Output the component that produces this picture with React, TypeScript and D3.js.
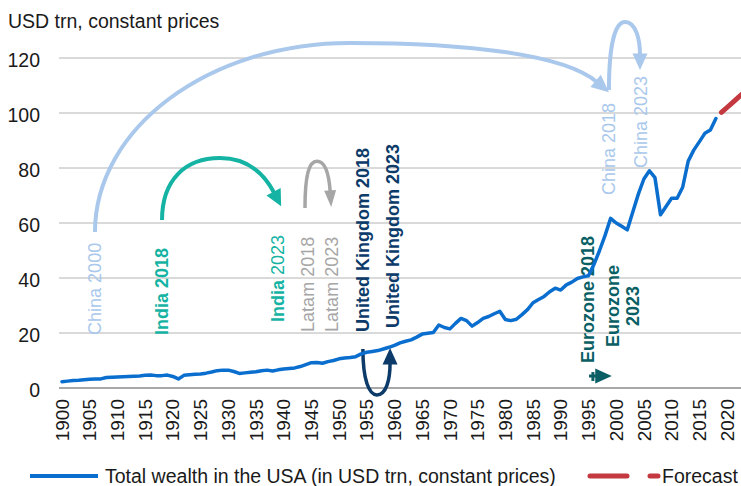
import React from "react";
import * as d3 from "d3";

const W = 741;
const H = 486;
const FONT = "'Liberation Sans', Arial, Helvetica, sans-serif";

const firstYear = 1900;
// Total wealth in the USA, USD trn, constant prices (1900..2018)
const wealth = [
  2.3, 2.5, 2.7, 2.8, 3.0, 3.2, 3.3, 3.3, 3.8, 3.9,
  4.0, 4.1, 4.2, 4.3, 4.4, 4.6, 4.7, 4.5, 4.5, 4.7,
  4.2, 3.3, 4.6, 4.8, 5.0, 5.1, 5.4, 5.8, 6.3, 6.5,
  6.5, 6.0, 5.3, 5.5, 5.7, 5.9, 6.3, 6.5, 6.2, 6.6,
  6.9, 7.1, 7.3, 7.8, 8.5, 9.2, 9.3, 9.0, 9.6, 10.0,
  10.6, 10.9, 11.1, 11.4, 12.4, 13.0, 13.3, 13.6, 14.2, 14.8,
  15.5, 16.4, 17.0, 17.5, 18.5, 19.6, 19.9, 20.2, 22.9, 22.0,
  21.5, 23.5, 25.3, 24.5, 22.5, 23.8, 25.3, 26.0, 27.0, 27.9,
  24.9, 24.5, 25.0, 26.7, 28.5, 31.0, 32.2, 33.3, 35.0, 36.3,
  35.6, 37.5, 38.5, 39.8, 40.4, 40.8, 45.0, 50.0, 55.5, 61.7,
  60.0, 58.8, 57.5, 64.0, 70.5, 76.0, 79.0, 76.5, 63.0, 66.0,
  69.0, 69.0, 73.0, 82.5, 86.5, 89.5, 92.6, 93.8, 98.0,
];
const forecastYears = [2019, 2020, 2021, 2022, 2023];
const forecast = [100.2, 102.0, 103.8, 105.6, 107.4];

const xTicks = [
  1900, 1905, 1910, 1915, 1920, 1925, 1930, 1935, 1940, 1945, 1950, 1955,
  1960, 1965, 1970, 1975, 1980, 1985, 1990, 1995, 2000, 2005, 2010, 2015, 2020,
];
const yTicks = [0, 20, 40, 60, 80, 100, 120];

const C_LINE = "#0a6ecf";
const C_FC = "#c4383f";
const C_CHINA = "#a9c8ec";
const C_INDIA = "#15b3a3";
const C_LATAM = "#a6a6a6";
const C_UK = "#0c3b6a";
const C_EURO = "#0a5f64";

// rotated labels: anchored at bottom (start), year/value of the anchor
const labels = [
  { text: ["China ", "2000"], year: 1905.95, value: 19.3, color: C_CHINA, bold: [false, false] },
  { text: ["India ", "2018"], year: 1918.05, value: 19.3, color: C_INDIA, bold: [true, true] },
  { text: ["India ", "2023"], year: 1939.0, value: 24.0, color: C_INDIA, bold: [true, false] },
  { text: ["Latam ", "2018"], year: 1944.4, value: 20.4, color: C_LATAM, bold: [false, false] },
  { text: ["Latam ", "2023"], year: 1948.7, value: 20.4, color: C_LATAM, bold: [false, false] },
  { text: ["United Kingdom ", "2018"], year: 1954.3, value: 20.4, color: C_UK, bold: [true, true] },
  { text: ["United Kingdom ", "2023"], year: 1959.6, value: 21.8, color: C_UK, bold: [true, true] },
  { text: ["Eurozone ", "2018"], year: 1994.9, value: 9.1, color: C_EURO, bold: [true, true] },
  { text: ["China ", "2018"], year: 1998.6, value: 70.2, color: C_CHINA, bold: [false, false] },
  { text: ["China ", "2023"], year: 2004.5, value: 80.0, color: C_CHINA, bold: [false, false] },
];
// centred two-line label
const euroLines = ["Eurozone", "2023"];
const euroLineYears = [1999.3, 2002.9];
const euroCenterValue = 29.8;

// curved arrows: [year, value] points, M then cubic segments
const arrows = [
  {
    color: C_CHINA, width: 4, head: 16, headW: 16,
    pts: [
      [1905.95, 56.7], [1905.95, 94.5], [1926.5, 125.5], [1951.97, 125.5],
      [1973.6, 125.5], [1990.8, 121.1], [1996.5, 111.3],
    ],
  },
  {
    color: C_INDIA, width: 4, head: 15, headW: 16,
    pts: [
      [1918.05, 61.1], [1918.05, 75.6], [1922.2, 83.6], [1928.5, 83.6],
      [1933.6, 83.6], [1936.6, 77.5], [1938.3, 70.9],
    ],
  },
  {
    color: C_LATAM, width: 3.5, head: 15, headW: 12,
    pts: [
      [1943.85, 65.45], [1943.85, 77.45], [1944.57, 82.5], [1946.0, 82.5],
      [1947.5, 82.5], [1948.2, 77.45], [1948.4, 71.3],
    ],
  },
  {
    color: C_UK, width: 3.5, head: 15, headW: 15,
    pts: [
      [1954.3, 14.2], [1954.3, 2.9], [1955.4, -2.5], [1956.8, -2.5],
      [1958.5, -2.5], [1959.2, 2.9], [1959.2, 9.1],
    ],
  },
  {
    color: C_CHINA, width: 4, head: 15, headW: 15,
    pts: [
      [1998.7, 108.4], [1998.7, 124.7], [1999.8, 133.1], [2001.6, 133.1],
      [2003.6, 133.1], [2004.3, 126.5], [2004.3, 121.1],
    ],
  },
];
// Eurozone: small straight arrow
const euroArrow = [[1995.1, 4.36], [1996.5, 4.36]];
const euroTick = [[1995.8, 5.8], [1995.8, 2.55]];

export default function App() {
  const x = d3.scaleLinear().domain([1900, 2020]).range([62, 727]);
  const y = d3.scaleLinear().domain([0, 120]).range([388, 58]);

  const series = wealth.map((v, i) => [firstYear + i, v] as [number, number]);
  const fcSeries = forecast.map((v, i) => [forecastYears[i], v] as [number, number]);
  const line = d3
    .line<[number, number]>()
    .x((d) => x(d[0]))
    .y((d) => y(d[1]));

  const arrowShape = (pts: number[][], head: number, headW: number) => {
    const p = pts.map(([a, b]) => [x(a), y(b)]);
    const path = d3.path();
    path.moveTo(p[0][0], p[0][1]);
    for (let i = 1; i + 2 < p.length; i += 3) {
      path.bezierCurveTo(p[i][0], p[i][1], p[i + 1][0], p[i + 1][1], p[i + 2][0], p[i + 2][1]);
    }
    if (p.length === 2) path.lineTo(p[1][0], p[1][1]);
    const end = p[p.length - 1];
    const prev = p[p.length - 2];
    const dx = end[0] - prev[0];
    const dy = end[1] - prev[1];
    const L = Math.hypot(dx, dy);
    const ux = dx / L;
    const uy = dy / L;
    const bx = end[0] - ux * 1.5;
    const by = end[1] - uy * 1.5;
    const tip = [end[0] + ux * head, end[1] + uy * head];
    const b1 = [bx - (uy * headW) / 2, by + (ux * headW) / 2];
    const b2 = [bx + (uy * headW) / 2, by - (ux * headW) / 2];
    const tri = `M${b1[0]},${b1[1]}L${tip[0]},${tip[1]}L${b2[0]},${b2[1]}Z`;
    return { d: path.toString(), tri };
  };

  const euro = arrowShape(euroArrow, 15, 15);

  return (
    <svg
      width={W}
      height={H}
      style={{ position: "absolute", left: 0, top: 0, background: "#fff" }}
      fontFamily={FONT}
    >
      <rect width={W} height={H} fill="#fff" />
      {/* title */}
      <text x={8} y={28} fontSize={19.5} fill="#1a1a1a">
        USD trn, constant prices
      </text>

      {/* grid */}
      {yTicks.map((t) => (
        <g key={t}>
          <line
            x1={59}
            x2={W}
            y1={y(t)}
            y2={y(t)}
            stroke={t === 0 ? "#a8a8a8" : "#b4b4b4"}
            strokeWidth={t === 0 ? 2 : 1}
          />
          <text x={40} y={y(t) + 9} textAnchor="end" fontSize={19.5} fill="#1a1a1a">
            {t}
          </text>
        </g>
      ))}

      {/* x tick labels */}
      {xTicks.map((t) => (
        <text
          key={t}
          transform={`translate(${x(t)},399) rotate(-90)`}
          dy="0.35em"
          textAnchor="end"
          fontSize={19}
          fill="#1a1a1a"
        >
          {t}
        </text>
      ))}

      {/* annotations text */}
      {labels.map((l, i) => (
        <text
          key={i}
          transform={`translate(${x(l.year)},${y(l.value)}) rotate(-90)`}
          dy="0.35em"
          fontSize={18}
          fill={l.color}
        >
          {l.text.map((s, j) => (
            <tspan key={j} fontWeight={l.bold[j] ? "bold" : "normal"}>
              {s}
            </tspan>
          ))}
        </text>
      ))}
      <text
        transform={`translate(${x(euroLineYears[0])},${y(euroCenterValue)}) rotate(-90)`}
        fontSize={18}
        fill={C_EURO}
        fontWeight="bold"
        textAnchor="middle"
      >
        {euroLines.map((s, j) => (
          <tspan key={j} x={0} dy={j === 0 ? "0.35em" : (x(euroLineYears[1]) - x(euroLineYears[0])).toString()}>
            {s}
          </tspan>
        ))}
      </text>

      {/* arrows */}
      {arrows.map((a, i) => {
        const s = arrowShape(a.pts, a.head, a.headW);
        return (
          <g key={i}>
            <path d={s.d} fill="none" stroke={a.color} strokeWidth={a.width} />
            <path d={s.tri} fill={a.color} />
          </g>
        );
      })}
      <path d={euro.d} fill="none" stroke={C_EURO} strokeWidth={3} />
      <path d={euro.tri} fill={C_EURO} />
      <line
        x1={x(euroTick[0][0])}
        x2={x(euroTick[1][0])}
        y1={y(euroTick[0][1])}
        y2={y(euroTick[1][1])}
        stroke={C_EURO}
        strokeWidth={3}
      />

      {/* data lines */}
      <path
        d={line(series) || ""}
        fill="none"
        stroke={C_LINE}
        strokeWidth={3.5}
        strokeLinejoin="round"
        strokeLinecap="round"
      />
      <path
        d={line(fcSeries) || ""}
        fill="none"
        stroke={C_FC}
        strokeWidth={5}
        strokeDasharray="37 23"
        strokeLinecap="round"
      />

      {/* legend */}
      <line x1={30} x2={98} y1={476} y2={476} stroke={C_LINE} strokeWidth={4} />
      <text x={105} y={483} fontSize={19.5} fill="#1a1a1a">
        Total wealth in the USA (in USD trn, constant prices)
      </text>
      <line
        x1={590}
        x2={658}
        y1={476}
        y2={476}
        stroke={C_FC}
        strokeWidth={5}
        strokeDasharray="37 23"
        strokeLinecap="round"
      />
      <text x={662} y={483} fontSize={19.5} fill="#1a1a1a">
        Forecast
      </text>
    </svg>
  );
}
